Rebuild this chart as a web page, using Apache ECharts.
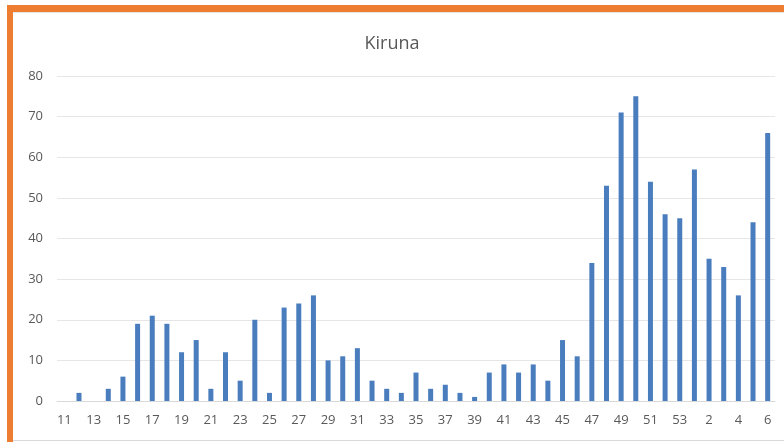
<!DOCTYPE html>
<html>
<head>
<meta charset="utf-8">
<script src="https://cdn.jsdelivr.net/npm/echarts@6/dist/echarts.min.js"></script>
<style>
    html, body { margin: 0; padding: 0; background: #fff; }
    #chart { width: 784px; height: 442px; }
</style>
</head>
<body>
<div id="chart"></div>
<script>
// week numbers, 2020 w11 .. 2021 w6
var weeks = ['11', '12', '13', '14', '15', '16', '17', '18', '19', '20',
    '21', '22', '23', '24', '25', '26', '27', '28', '29', '30',
    '31', '32', '33', '34', '35', '36', '37', '38', '39', '40',
    '41', '42', '43', '44', '45', '46', '47', '48', '49', '50',
    '51', '52', '53', '1', '2', '3', '4', '5', '6'];
var cases = [0, 2, 0, 3, 6, 19, 21, 19, 12, 15,
    3, 12, 5, 20, 2, 23, 24, 26, 10, 11,
    13, 5, 3, 2, 7, 3, 4, 2, 1, 7,
    9, 7, 9, 5, 15, 11, 34, 53, 71, 75,
    54, 46, 45, 57, 35, 33, 26, 44, 66];
var yTicks = [0, 10, 20, 30, 40, 50, 60, 70, 80];

var chart = echarts.init(document.getElementById('chart'));
var option = {
    animation: false,
    backgroundColor: '#fff',
    title: {
        text: 'Kiruna',
        left: 'center',
        top: 30,
        textStyle: {
            fontFamily: 'Open Sans',
            fontSize: 18,
            fontWeight: 'normal',
            color: '#595959'
        }
    },
    grid: {
        left: 57,
        right: 9,
        top: 76,
        bottom: 41
    },
    xAxis: {
        type: 'category',
        data: weeks,
        axisTick: { show: false },
        axisLine: { lineStyle: { color: '#d9d9d9' } },
        axisLabel: {
            interval: 1,
            margin: 13,
            fontFamily: 'Open Sans',
            fontSize: 13,
            color: '#595959'
        }
    },
    yAxis: {
        type: 'value',
        min: yTicks[0],
        max: yTicks[yTicks.length - 1],
        interval: 10,
        axisLine: { show: false },
        axisTick: { show: false },
        splitLine: { lineStyle: { color: '#e6e6e6' } },
        axisLabel: {
            margin: 14,
            fontFamily: 'Open Sans',
            fontSize: 13,
            color: '#595959'
        }
    },
    series: [{
        type: 'bar',
        data: cases,
        barWidth: 5,
        itemStyle: { color: '#4a7dbd' }
    }],
    graphic: [
        { type: 'rect', shape: { x: 7, y: 5, width: 777, height: 7 }, style: { fill: '#ed7d31' } },
        { type: 'rect', shape: { x: 7, y: 5, width: 6, height: 437 }, style: { fill: '#ed7d31' } },
        { type: 'rect', shape: { x: 13, y: 12, width: 771, height: 1 }, style: { fill: '#e4e4e4' } },
        { type: 'rect', shape: { x: 13, y: 440, width: 771, height: 1 }, style: { fill: '#d9d9d9' } }
    ]
};
chart.setOption(option);
</script>
</body>
</html>
